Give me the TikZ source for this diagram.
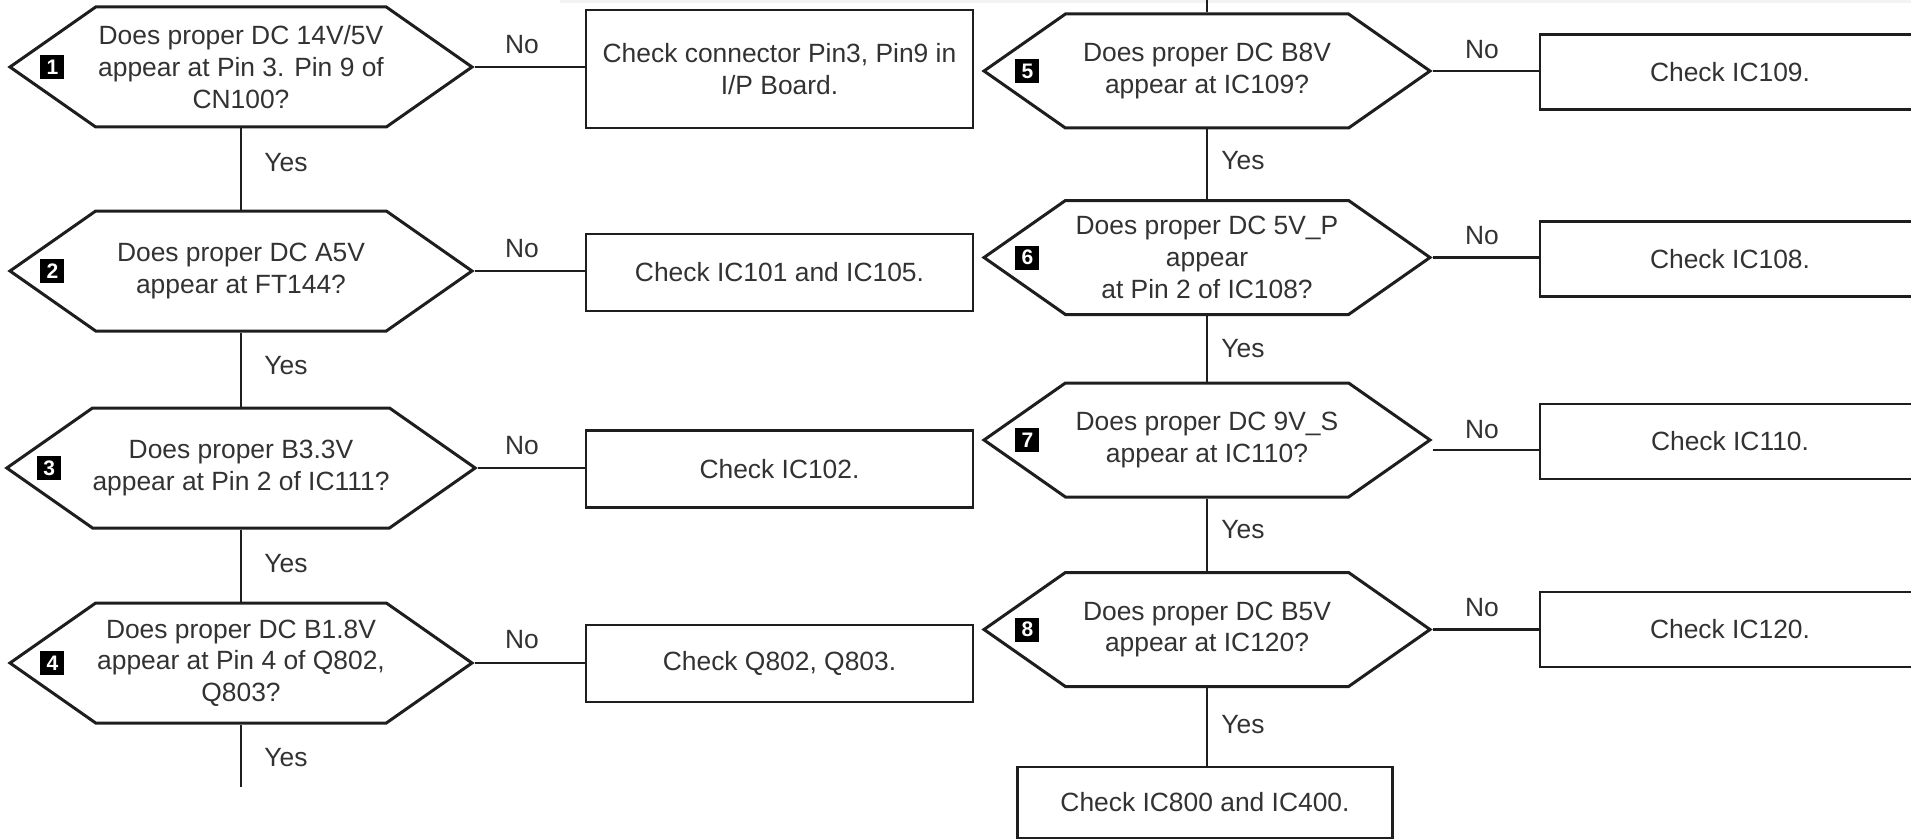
\documentclass[tikz,border=0pt]{standalone}
\usepackage{fontspec}
\setmainfont{Liberation Sans}
\usetikzlibrary{shapes.symbols,calc}
\definecolor{Ink}{RGB}{30,30,30}
\definecolor{Txt}{RGB}{50,50,50}
\definecolor{Strip}{RGB}{243,243,243}

\begin{document}
\begin{tikzpicture}[x=0.5pt,y=-0.5pt,line join=miter,
  hexq/.style={signal,signal to=east and west,signal pointer angle=70,draw=Ink,line width=1.5pt,
    inner sep=0pt,align=center,text=Txt,font=\fontsize{13.2}{15.8}\selectfont},
  lhex/.style={hexq,minimum width=231pt,minimum height=60pt},
  rhex/.style={hexq,minimum width=223pt,minimum height=57pt},
  chkbox/.style={rectangle,draw=Ink,line width=1.4pt,inner sep=0pt,align=center,text=Txt,
    font=\fontsize{13.2}{15.8}\selectfont},
  lbox/.style={chkbox,minimum width=193.5pt,minimum height=38.5pt},
  rbox/.style={chkbox,minimum width=190pt,minimum height=37.5pt},
  badge/.style={rectangle,fill=black,text=white,inner sep=0pt,minimum size=12pt,
    font=\fontsize{10.5}{11}\selectfont\bfseries},
  answer/.style={text=Txt,inner sep=0pt,font=\fontsize{13.2}{15.8}\selectfont},
  wire/.style={draw=Ink,line width=1.4pt},
  thinwire/.style={draw=Ink,line width=0.8pt}]
\useasboundingbox (0,0) rectangle (1911,840);
\clip (0,0) rectangle (1911,840);
\fill[Strip] (560,0) rectangle (1911,3);

% left column
\node[lhex] (q1) at (241,67) {Does proper DC 14V/5V\\appear at Pin 3. Pin 9 of\\CN100?};
\node[lhex] (q2) at (241,271) {Does proper DC A5V\\appear at FT144?};
\node[lhex] (q3) at (241,468) {Does proper B3.3V\\appear at Pin 2 of IC111?};
\node[lhex] (q4) at (241,663) {Does proper DC B1.8V\\appear at Pin 4 of Q802,\\Q803?};
\node[badge] (k1) at ($(q1.west)+(45,0)$) {1};
\node[badge] (k2) at ($(q2.west)+(45,0)$) {2};
\node[badge] (k3) at ($(q3.west)+(45,0)$) {3};
\node[badge] (k4) at ($(q4.west)+(45,0)$) {4};

\node[lbox,minimum height=59pt] (c1) at (779.5,69) {Check connector Pin3, Pin9 in\\I/P Board.};
\node[lbox] (c2) at (779.5,272.5) {Check IC101 and IC105.};
\node[lbox] (c3) at (779.5,469) {Check IC102.};
\node[lbox] (c4) at (779.5,663.5) {Check Q802, Q803.};

\coordinate (e4) at (241,787);
\draw[thinwire] (q1.east) -- (c1.west |- q1.east);
\draw[wire] (q2.east) -- (c2.west |- q2.east);
\draw[wire] (q3.east) -- (c3.west |- q3.east);
\draw[thinwire] (q4.east) -- (c4.west |- q4.east);
\draw[wire] (q1.south) -- (q2.north);
\draw[wire] (q2.south) -- (q3.north);
\draw[wire] (q3.south) -- (q4.north);
\draw[wire] (q4.south) -- (e4);

\node[answer] (n1) at (522,45) {No};
\node[answer] (n2) at (522,249) {No};
\node[answer] (n3) at (522,446) {No};
\node[answer] (n4) at (522,640) {No};
\node[answer] (y1) at (286,163) {Yes};
\node[answer] (y2) at (286,366) {Yes};
\node[answer] (y3) at (286,564) {Yes};
\node[answer] (y4) at (286,758) {Yes};

% right column
\node[rhex] (q5) at (1207,71) {Does proper DC B8V\\appear at IC109?};
\node[rhex] (q6) at (1207,257.5) {Does proper DC 5V\_P\\appear\\at Pin 2 of IC108?};
\node[rhex] (q7) at (1207,440) {Does proper DC 9V\_S\\appear at IC110?};
\node[rhex] (q8) at (1207,629.5) {Does proper DC B5V\\appear at IC120?};
\node[badge] (k5) at ($(q5.west)+(46,0)$) {5};
\node[badge] (k6) at ($(q6.west)+(46,0)$) {6};
\node[badge] (k7) at ($(q7.west)+(46,0)$) {7};
\node[badge] (k8) at ($(q8.west)+(46,0)$) {8};

\node[rbox] (c5) at (1730,72) {Check IC109.};
\node[rbox] (c6) at (1730,259) {Check IC108.};
\node[rbox] (c7) at (1730,441.5) {Check IC110.};
\node[rbox] (c8) at (1730,629.5) {Check IC120.};
\node[chkbox,minimum width=187.5pt,minimum height=35.5pt] (f) at (1205,802.5) {Check IC800 and IC400.};

\coordinate (s5) at (1207,0);
\draw[wire] (s5) -- (q5.north);
\draw[thinwire] (q5.east) -- (c5.west |- q5.east);
\draw[wire] (q6.east) -- (c6.west |- q6.east);
\draw[wire] ([yshift=-5pt]q7.east) -- ([yshift=-5pt]c7.west |- q7.east);
\draw[wire] (q8.east) -- (c8.west |- q8.east);
\draw[wire] (q5.south) -- (q6.north);
\draw[wire] (q6.south) -- (q7.north);
\draw[wire] (q7.south) -- (q8.north);
\draw[wire] (q8.south) -- (f.north -| q8.south);

\node[answer] (n5) at (1482,50) {No};
\node[answer] (n6) at (1482,236) {No};
\node[answer] (n7) at (1482,430) {No};
\node[answer] (n8) at (1482,608) {No};
\node[answer] (y5) at (1243,161) {Yes};
\node[answer] (y6) at (1243,349) {Yes};
\node[answer] (y7) at (1243,530) {Yes};
\node[answer] (y8) at (1243,725) {Yes};
\end{tikzpicture}
\end{document}
